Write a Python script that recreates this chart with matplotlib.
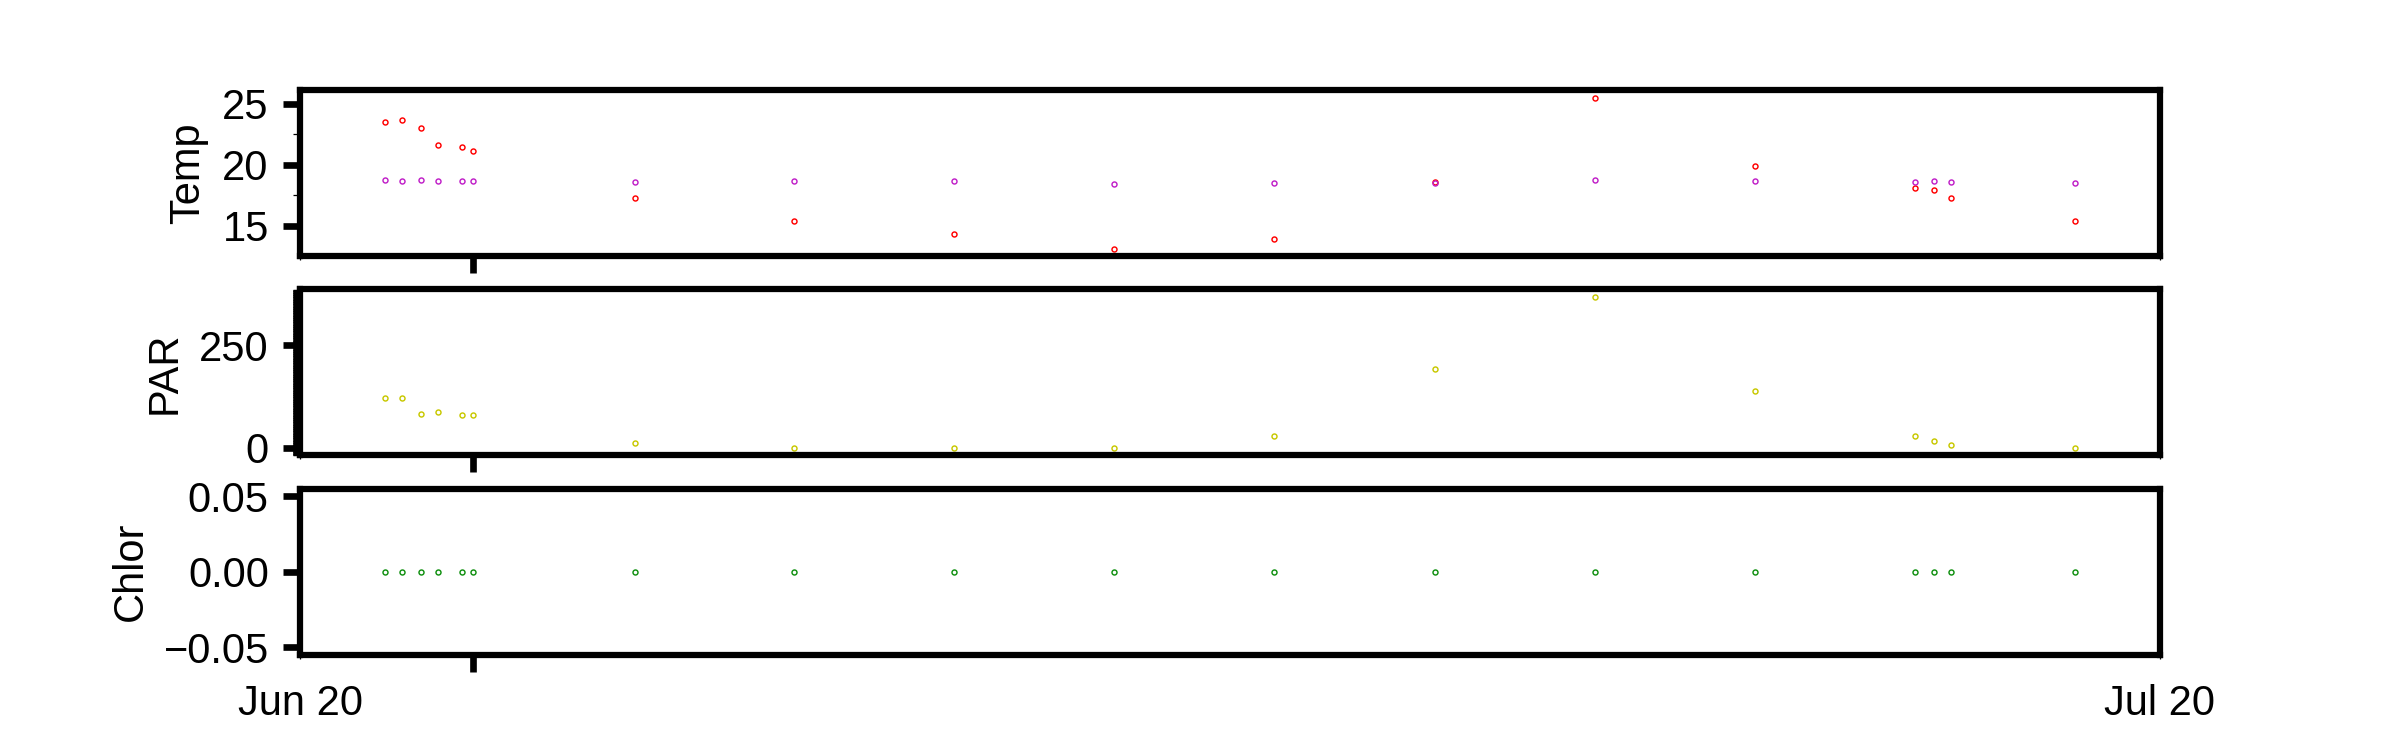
"""
Three stacked time-series panels (Temp, PAR, Chlor) from one sensor run,
Jun 20 - Jul 20, drawn as tiny hollow markers with heavy frames.
"""

import matplotlib
matplotlib.use("Agg")
import matplotlib.pyplot as plt
import matplotlib.dates as mdates
from matplotlib.ticker import MultipleLocator, NullLocator
import pandas as pd

plt.rcParams["font.family"] = ["Liberation Sans", "DejaVu Sans"]

# ---------------------------------------------------------------------------
# Data
# ---------------------------------------------------------------------------
times = pd.to_datetime([
    "2020-06-21 09:00", "2020-06-21 15:36", "2020-06-21 22:44",
    "2020-06-22 05:30", "2020-06-22 14:51", "2020-06-22 19:09",
    "2020-06-25 09:32", "2020-06-27 23:17", "2020-06-30 13:12",
    "2020-07-03 03:07", "2020-07-05 17:02", "2020-07-08 07:26",
    "2020-07-10 21:22", "2020-07-13 11:17", "2020-07-16 01:12",
    "2020-07-16 08:24", "2020-07-16 15:07", "2020-07-18 15:07",
])

temp_a = [23.53, 23.69, 23.04, 21.65, 21.48, 21.16,
          17.32, 15.38, 14.37, 13.15, 13.96, 18.60,
          25.49, 19.93, 18.13, 17.97, 17.32, 15.44]

temp_b = [18.79, 18.71, 18.79, 18.71, 18.71, 18.71,
          18.62, 18.67, 18.67, 18.46, 18.54, 18.50,
          18.79, 18.71, 18.62, 18.71, 18.62, 18.54]

par = [122.6, 122.6, 83.6, 88.5, 81.2, 81.2,
       13.0, 0.5, 0.3, 0.0, 30.0, 193.0,
       368.5, 139.6, 30.0, 17.9, 8.0, 0.0]

chlor = [0.0] * 18

x_start = pd.Timestamp("2020-06-20")
x_end = pd.Timestamp("2020-07-20")
x_major = pd.Timestamp("2020-06-22 19:09")

# ---------------------------------------------------------------------------
# Figure
# ---------------------------------------------------------------------------
fig, axes = plt.subplots(3, 1, figsize=(16, 5), dpi=150, sharex=True)
fig.subplots_adjust(left=0.125, right=0.9, top=0.88, bottom=0.127, hspace=0.2)

mk = dict(linestyle="none", marker="o", markersize=2.4,
          markerfacecolor="none", markeredgewidth=0.7)

ax_t, ax_p, ax_c = axes
ax_t.plot(times, temp_a, color="#ff0000", **mk)
ax_t.plot(times, temp_b, color="#c020c8", **mk)
ax_p.plot(times, par, color="#c8c800", **mk)
ax_c.plot(times, chlor, color="#109010", **mk)

ax_t.set_ylabel("Temp", fontsize=20, labelpad=7)
ax_p.set_ylabel("PAR", fontsize=20, labelpad=7)
ax_c.set_ylabel("Chlor", fontsize=20, labelpad=6)

ax_t.yaxis.set_major_locator(MultipleLocator(5))
ax_t.yaxis.set_minor_locator(MultipleLocator(2.5))
ax_p.yaxis.set_major_locator(MultipleLocator(250))
ax_p.yaxis.set_minor_locator(MultipleLocator(1))
ax_c.yaxis.set_major_locator(MultipleLocator(0.05))
ax_c.yaxis.set_minor_locator(NullLocator())

ax_c.set_xlim(x_start, x_end)
ax_c.set_xticks([x_major], labels=[""])
ax_c.set_xticks([x_start, x_end], minor=True)
ax_c.xaxis.set_minor_formatter(mdates.DateFormatter("%b %d"))

for ax in axes:
    for s in ax.spines.values():
        s.set_linewidth(3)
    ax.tick_params(which="major", length=8, width=3.2, labelsize=20, pad=7)
    ax.tick_params(axis="y", which="minor", length=3.5, width=0.6)
    ax.tick_params(axis="x", which="minor", length=2, width=0.6,
                   labelsize=20, pad=12)
    ax.tick_params(axis="x", which="both", labelbottom=False)

ax_c.tick_params(axis="x", which="minor", labelbottom=True)

fig.savefig("out.png", dpi=150, facecolor="white")
